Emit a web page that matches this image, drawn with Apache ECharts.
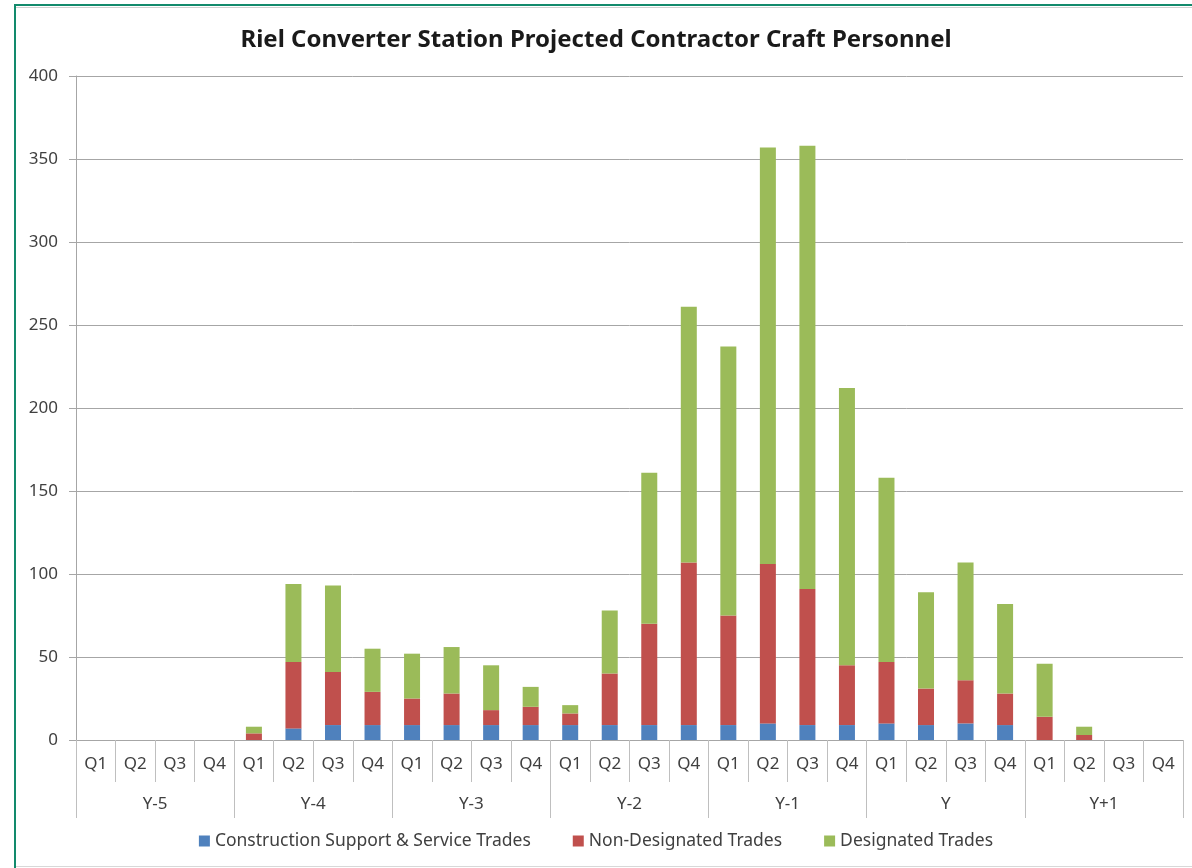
<!DOCTYPE html>
<html>
<head>
<meta charset="utf-8">
<script src="https://cdn.jsdelivr.net/npm/echarts@6/dist/echarts.min.js"></script>
<style>html,body{margin:0;padding:0;background:#fff;}#chart{width:1192px;height:868px;}</style>
</head>
<body>
<div id="chart"></div>
<script>
var quarters = ['Q1','Q2','Q3','Q4','Q1','Q2','Q3','Q4','Q1','Q2','Q3','Q4','Q1','Q2','Q3','Q4','Q1','Q2','Q3','Q4','Q1','Q2','Q3','Q4','Q1','Q2','Q3','Q4'];
var years = ['Y-5','Y-4','Y-3','Y-2','Y-1','Y','Y+1'];
var seriesNames = ['Construction Support & Service Trades','Non-Designated Trades','Designated Trades'];
var supportTrades = [0,0,0,0, 0,7,9,9, 9,9,9,9, 9,9,9,9, 9,10,9,9, 10,9,10,9, 0,0,0,0];
var nonDesignated = [0,0,0,0, 4,40,32,20, 16,19,9,11, 7,31,61,98, 66,96,82,36, 37,22,26,19, 14,3,0,0];
var designated = [0,0,0,0, 4,47,52,26, 27,28,27,12, 5,38,91,154, 162,251,267,167, 111,58,71,54, 32,5,0,0];
var yTicks = {min:0, max:400, interval:50};

var font = 'Noto Sans';
var txt = '#404040';
var chart = echarts.init(document.getElementById('chart'), null, {renderer:'canvas'});
chart.setOption({
  backgroundColor:'#fff',
  animation:false,
  title:{text:'Riel Converter Station Projected Contractor Craft Personnel', left:'center', top:23,
    textStyle:{fontFamily:font, fontSize:24, fontWeight:'bold', color:'#1a1a1a'}},
  legend:{bottom:13, left:'center', itemWidth:11, itemHeight:11, itemGap:42,
    icon:'rect', textStyle:{fontFamily:font, fontSize:17.5, color:txt}, data:seriesNames},
  grid:{left:76, right:9, top:76, bottom:128, containLabel:false},
  xAxis:[{
    type:'category', data:quarters, position:'bottom',
    axisLine:{lineStyle:{color:'#a6a6a6'}},
    axisTick:{show:true, interval:0, length:42, lineStyle:{color:'#bfbfbf'}},
    axisLabel:{interval:0, margin:16, fontFamily:font, fontSize:17, color:txt}
  },{
    type:'category', data:years, position:'bottom',
    axisLine:{show:false},
    axisTick:{show:true, interval:0, length:78, lineStyle:{color:'#bfbfbf'}},
    axisLabel:{interval:0, margin:56, fontFamily:font, fontSize:17, color:txt}
  }],
  yAxis:{type:'value', min:yTicks.min, max:yTicks.max, interval:yTicks.interval,
    axisLine:{show:true, lineStyle:{color:'#a6a6a6'}},
    axisTick:{show:true, length:7, lineStyle:{color:'#a6a6a6'}},
    splitLine:{lineStyle:{color:'#a6a6a6'}},
    axisLabel:{margin:18, fontFamily:font, fontSize:17, color:txt}},
  series:[
    {name:seriesNames[0], type:'bar', stack:'t', data:supportTrades, barWidth:16, itemStyle:{color:'#4F81BD'}},
    {name:seriesNames[1], type:'bar', stack:'t', data:nonDesignated, barWidth:16, itemStyle:{color:'#C0504D'}},
    {name:seriesNames[2], type:'bar', stack:'t', data:designated, barWidth:16, itemStyle:{color:'#9BBB59'}}
  ],
  graphic:[
    {type:'rect', shape:{x:14, y:4, width:1178, height:2}, style:{fill:'#128a6c'}},
    {type:'rect', shape:{x:14, y:7, width:1178, height:1}, style:{fill:'#d0d0d0'}},
    {type:'rect', shape:{x:14, y:4, width:2, height:864}, style:{fill:'#128a6c'}},
    {type:'rect', shape:{x:16, y:866, width:1176, height:1}, style:{fill:'#d8d8d8'}}
  ]
});
</script>
</body>
</html>
